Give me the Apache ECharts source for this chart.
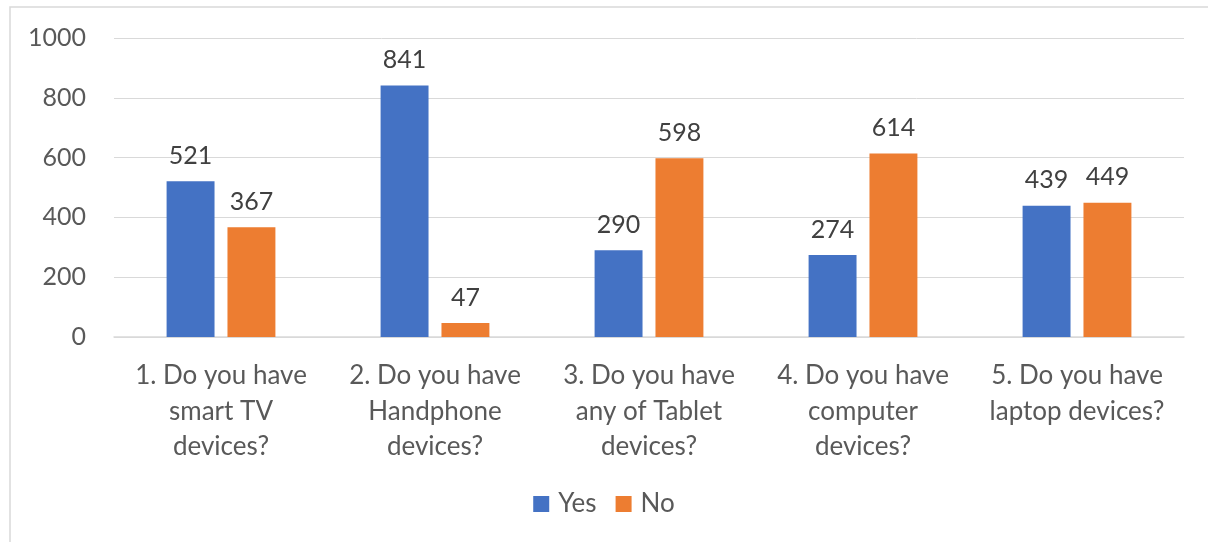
<!DOCTYPE html>
<html>
<head>
<meta charset="utf-8">
<script src="https://cdn.jsdelivr.net/npm/echarts@6/dist/echarts.min.js"></script>
<style>
  html, body { margin: 0; padding: 0; background: #fff; }
  #chart { width: 1208px; height: 542px; }
</style>
</head>
<body>
<div id="chart"></div>
<script>
const categories = [
  '1. Do you have\nsmart TV\ndevices?',
  '2. Do you have\nHandphone\ndevices?',
  '3. Do you have\nany of Tablet\ndevices?',
  '4. Do you have\ncomputer\ndevices?',
  '5. Do you have\nlaptop devices?'
];
const yesValues = [521, 841, 290, 274, 439];
const noValues = [367, 47, 598, 614, 449];

const font = 'Lato, "Open Sans", sans-serif';
const textColor = '#595959';

let chart = echarts.init(document.getElementById('chart'));
let option = {
  animation: false,
  textStyle: { fontFamily: font },
  graphic: [{
    type: 'rect',
    shape: { x: 10, y: 7, width: 1220, height: 560 },
    style: { fill: 'none', stroke: '#d9d9d9', lineWidth: 1.5 },
    silent: true
  }],
  grid: { left: 114, right: 24, top: 38, bottom: 205 },
  legend: {
    bottom: 20,
    left: 'center',
    itemWidth: 16,
    itemHeight: 16,
    itemGap: 19,
    icon: 'rect',
    textStyle: { fontSize: 26, color: textColor, fontFamily: font, padding: [0, 0, 0, 4] },
    data: ['Yes', 'No']
  },
  xAxis: {
    type: 'category',
    data: categories,
    axisLine: { lineStyle: { color: '#d9d9d9', width: 1.5 } },
    axisTick: { show: false },
    axisLabel: {
      interval: 0,
      fontSize: 26,
      lineHeight: 35.5,
      color: textColor,
      margin: 21,
      fontFamily: font
    }
  },
  yAxis: {
    type: 'value',
    min: 0,
    max: 1000,
    interval: 200,
    axisLine: { show: false },
    axisTick: { show: false },
    axisLabel: {
      fontSize: 25,
      color: textColor,
      margin: 28,
      fontFamily: font,
      formatter: function (v) { return String(v); }
    },
    splitLine: { lineStyle: { color: '#d9d9d9', width: 1 } }
  },
  series: [
    {
      name: 'Yes',
      type: 'bar',
      data: yesValues,
      barWidth: '22.4%',
      barGap: '27%',
      itemStyle: { color: '#4472C4' },
      label: { show: true, position: 'top', distance: 13, fontSize: 25, color: '#404040', fontFamily: font }
    },
    {
      name: 'No',
      type: 'bar',
      data: noValues,
      barWidth: '22.4%',
      itemStyle: { color: '#ED7D31' },
      label: { show: true, position: 'top', distance: 13, fontSize: 25, color: '#404040', fontFamily: font }
    }
  ]
};
chart.setOption(option, true);
window.addEventListener('resize', function () {
  chart.resize();
});
</script>
</body>
</html>
